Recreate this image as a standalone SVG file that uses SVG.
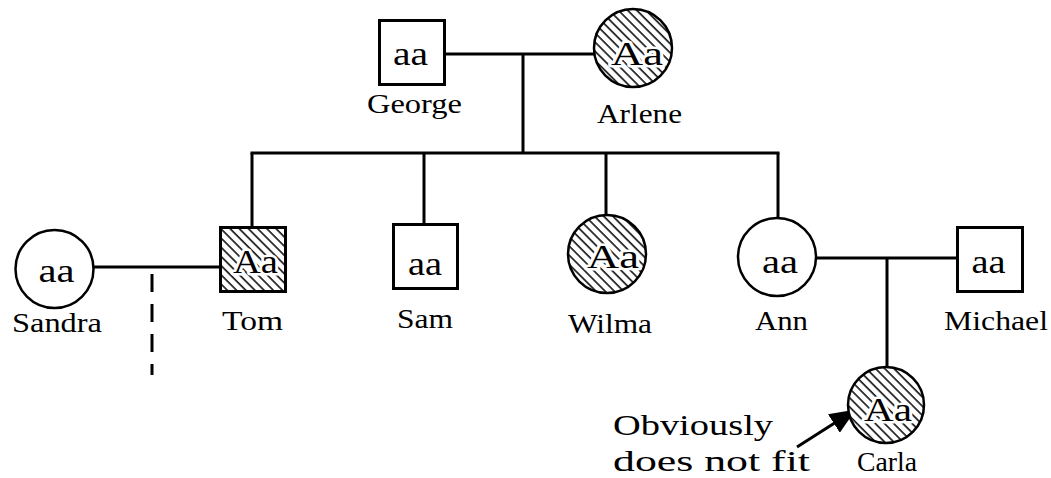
<svg xmlns="http://www.w3.org/2000/svg" width="1051" height="478" viewBox="0 0 1051 478">
  <defs>
    <!-- diagonal hatching for carriers -->
    <pattern id="hatch" patternUnits="userSpaceOnUse" width="6.5" height="6.5" patternTransform="rotate(-45)">
      <rect width="6.5" height="6.5" fill="#fff"/>
      <line x1="1" y1="0" x2="1" y2="6.5" stroke="#000" stroke-width="1.5"/>
    </pattern>
    <marker id="head" markerUnits="userSpaceOnUse" markerWidth="26" markerHeight="22" viewBox="0 0 26 22" refX="25" refY="11" orient="auto">
      <path d="M0,0 L26,11 L0,22 z" fill="#000"/>
    </marker>
  </defs>
  <style>
    .sq { fill: #fff; stroke: #000; stroke-width: 3; }
    .ci { fill: #fff; stroke: #000; stroke-width: 2.5; }
    .hs { fill: url(#hatch); stroke: #000; stroke-width: 3; }
    .hc { fill: url(#hatch); stroke: #000; stroke-width: 2.5; }
    .ln { stroke: #000; stroke-width: 3; fill: none; }
    .dash { stroke: #000; stroke-width: 3; stroke-dasharray: 18 12; fill: none; }
    text { font-family: "Liberation Serif", "Times New Roman", serif; fill: #000; }
    .name { font-size: 28px; }
    .geno { font-size: 34px; text-anchor: middle; }
    .halo { stroke: #fff; stroke-width: 5; paint-order: stroke; stroke-linejoin: round; }
    .note { font-size: 30px; }
  </style>

  <rect width="1051" height="478" fill="#fff"/>

  <g id="connectors">
    <!-- George x Arlene -->
    <line class="ln" x1="445" y1="54" x2="595" y2="54"/>
    <line class="ln" x1="523" y1="54" x2="523" y2="153"/>
    <!-- sibship bar -->
    <line class="ln" x1="250.5" y1="153" x2="779.5" y2="153"/>
    <line class="ln" x1="252" y1="153" x2="252" y2="227"/>
    <line class="ln" x1="424" y1="153" x2="424" y2="224"/>
    <line class="ln" x1="606" y1="153" x2="606" y2="215"/>
    <line class="ln" x1="778" y1="153" x2="778" y2="218"/>
    <!-- Sandra x Tom -->
    <line class="ln" x1="93" y1="267" x2="220" y2="267"/>
    <line class="dash" x1="152" y1="274" x2="152" y2="375"/>
    <!-- Ann x Michael -->
    <line class="ln" x1="816" y1="258" x2="957" y2="258"/>
    <line class="ln" x1="887" y1="258" x2="887" y2="367"/>
    <!-- annotation arrow -->
    <line class="ln" x1="797" y1="447" x2="855" y2="410" stroke-width="2.5" marker-end="url(#head)"/>
  </g>

  <g id="george">
    <rect class="sq" x="379.5" y="20.5" width="65" height="64"/>
    <text class="geno" x="410.5" y="65" textLength="35" lengthAdjust="spacingAndGlyphs">aa</text>
    <text class="name" x="367" y="113" textLength="95" lengthAdjust="spacingAndGlyphs">George</text>
  </g>

  <g id="arlene">
    <circle class="hc" cx="633" cy="48" r="39"/>
    <text class="geno halo" x="637" y="65" textLength="52" lengthAdjust="spacingAndGlyphs">Aa</text>
    <text class="name" x="597" y="123" textLength="85" lengthAdjust="spacingAndGlyphs">Arlene</text>
  </g>

  <g id="sandra">
    <circle class="ci" cx="54.5" cy="269" r="39"/>
    <text class="geno" x="56.5" y="282" textLength="36" lengthAdjust="spacingAndGlyphs">aa</text>
    <text class="name" x="12" y="332" textLength="90" lengthAdjust="spacingAndGlyphs">Sandra</text>
  </g>

  <g id="tom">
    <rect class="hs" x="220.5" y="227.5" width="65" height="64"/>
    <text class="geno halo" x="255.5" y="273" textLength="45" lengthAdjust="spacingAndGlyphs">Aa</text>
    <text class="name" x="222" y="330" textLength="61" lengthAdjust="spacingAndGlyphs">Tom</text>
  </g>

  <g id="sam">
    <rect class="sq" x="393.5" y="224.5" width="64" height="64"/>
    <text class="geno" x="425" y="275" textLength="34" lengthAdjust="spacingAndGlyphs">aa</text>
    <text class="name" x="397" y="328" textLength="56" lengthAdjust="spacingAndGlyphs">Sam</text>
  </g>

  <g id="wilma">
    <circle class="hc" cx="607" cy="254" r="39"/>
    <text class="geno halo" x="613" y="268" textLength="52" lengthAdjust="spacingAndGlyphs">Aa</text>
    <text class="name" x="568" y="333" textLength="84" lengthAdjust="spacingAndGlyphs">Wilma</text>
  </g>

  <g id="ann">
    <circle class="ci" cx="777" cy="257" r="39"/>
    <text class="geno" x="780" y="273" textLength="36" lengthAdjust="spacingAndGlyphs">aa</text>
    <text class="name" x="755" y="330" textLength="53" lengthAdjust="spacingAndGlyphs">Ann</text>
  </g>

  <g id="michael">
    <rect class="sq" x="957.5" y="227.5" width="65" height="64"/>
    <text class="geno" x="988.5" y="273" textLength="34" lengthAdjust="spacingAndGlyphs">aa</text>
    <text class="name" x="944" y="330" textLength="104" lengthAdjust="spacingAndGlyphs">Michael</text>
  </g>

  <g id="carla">
    <circle class="hc" cx="886" cy="405" r="38"/>
    <text class="geno halo" x="888" y="421" textLength="48" lengthAdjust="spacingAndGlyphs">Aa</text>
    <text class="name" x="857" y="471" font-size="27" textLength="60" lengthAdjust="spacingAndGlyphs">Carla</text>
  </g>

  <g id="note">
    <text class="note" x="613" y="435" textLength="160" lengthAdjust="spacingAndGlyphs">Obviously</text>
    <text class="note" x="613" y="471" textLength="197" lengthAdjust="spacingAndGlyphs">does not fit</text>
  </g>
</svg>
